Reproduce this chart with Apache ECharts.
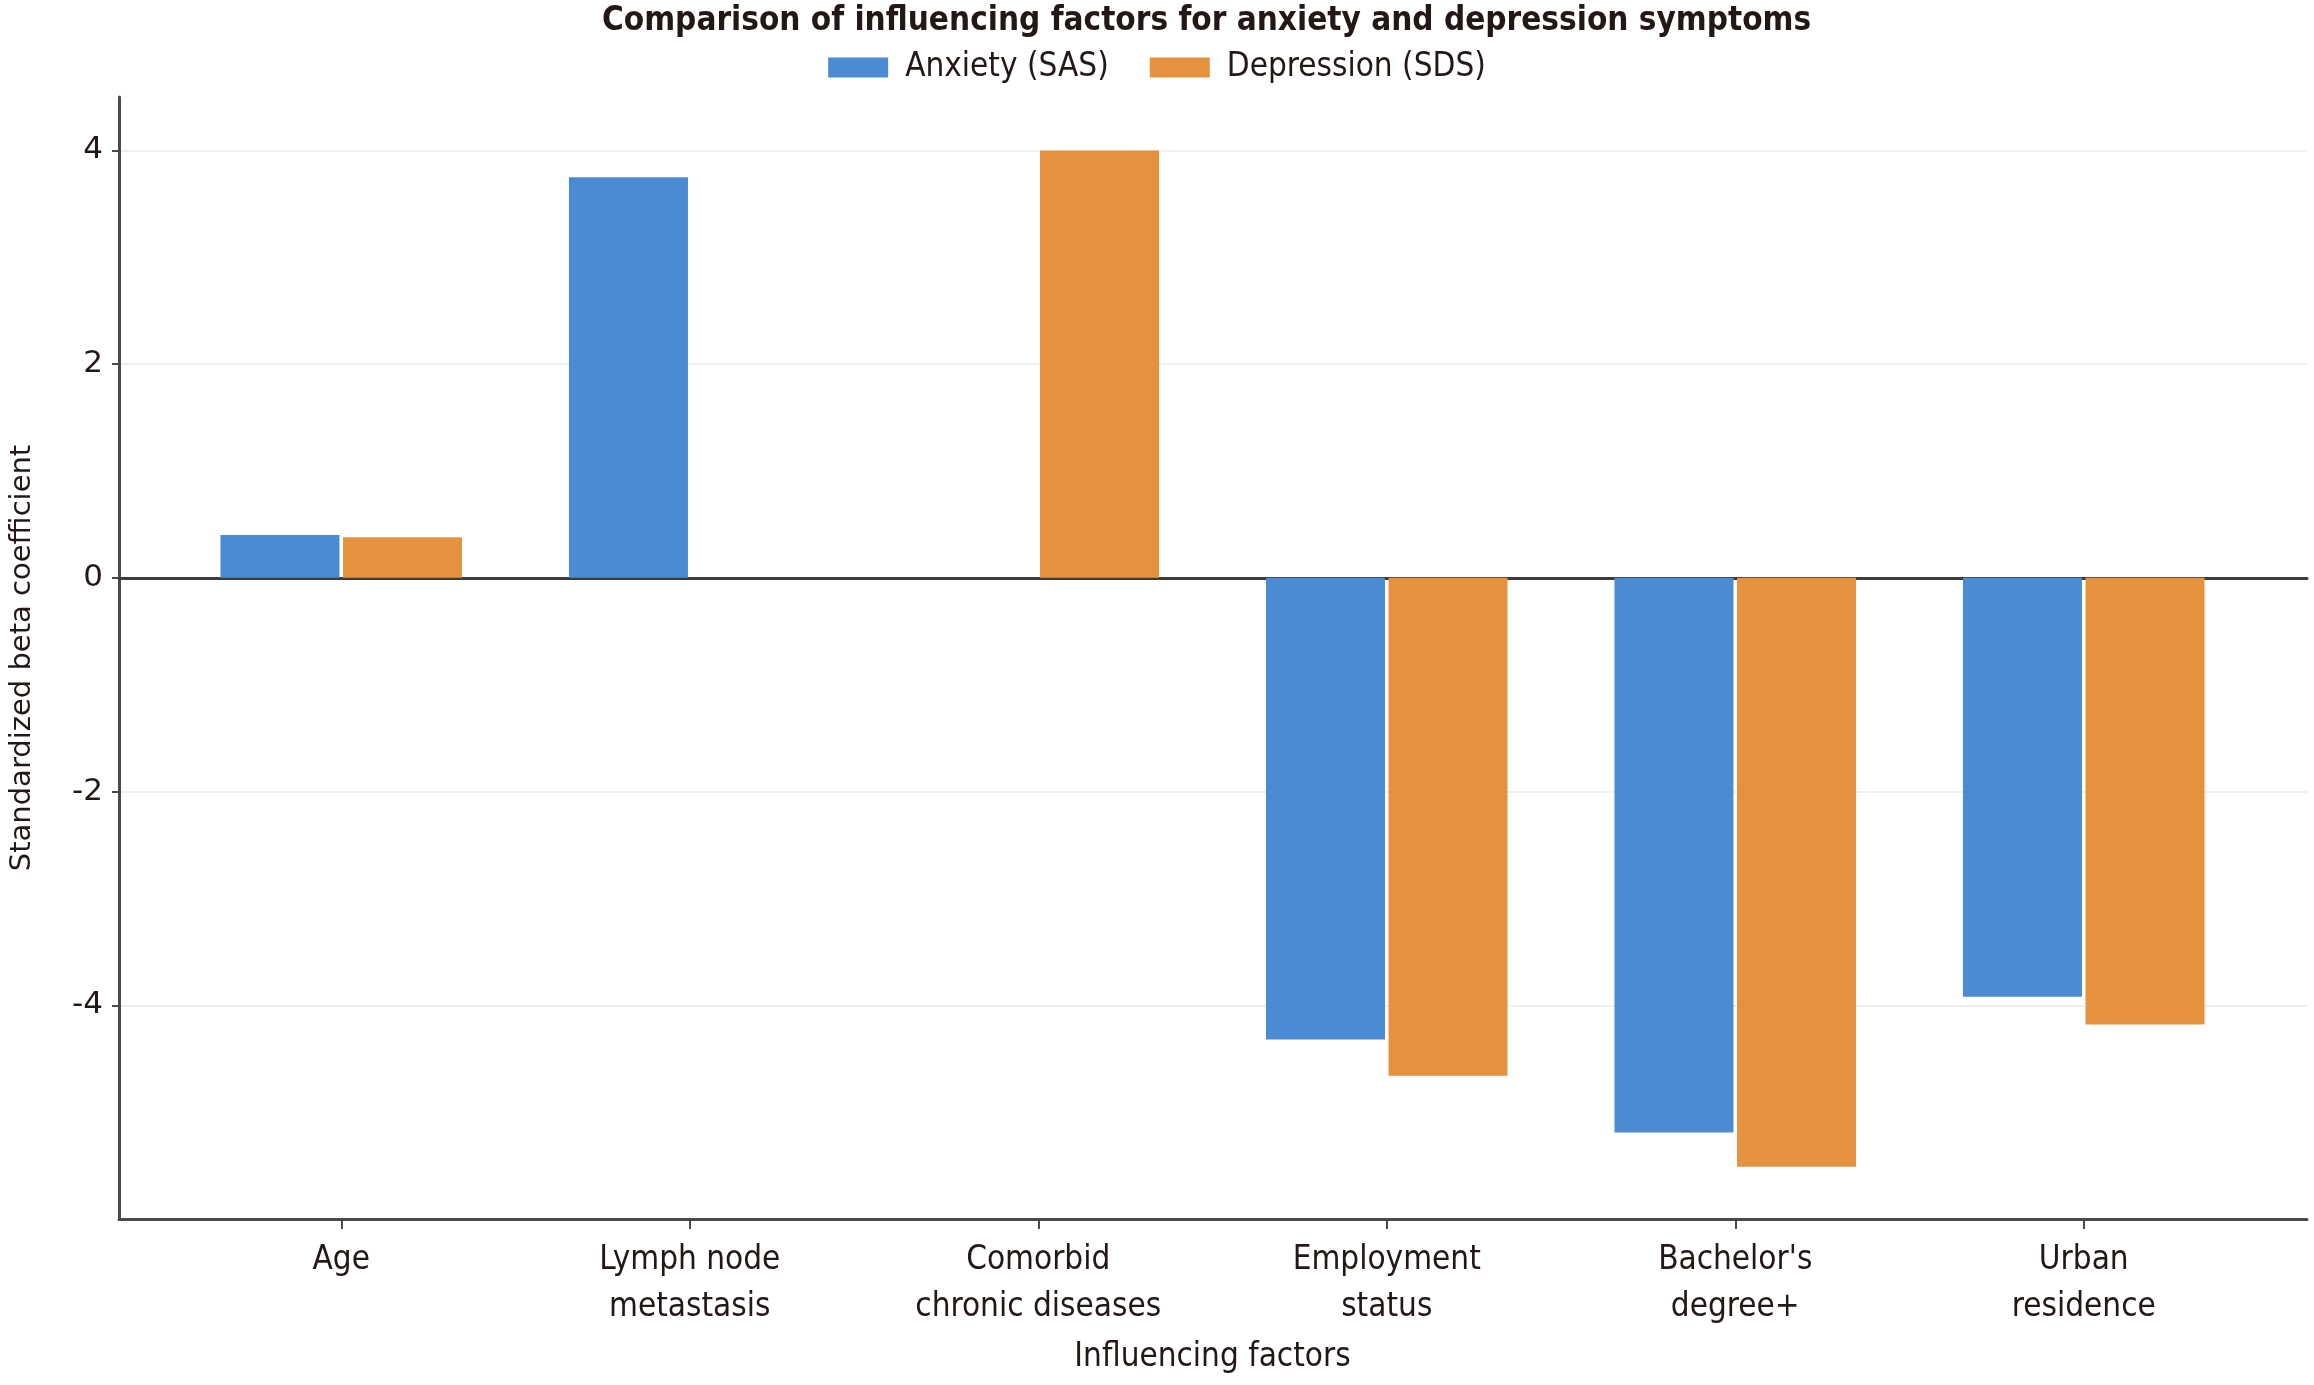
<!DOCTYPE html>
<html>
<head>
<meta charset="utf-8">
<script src="https://cdn.jsdelivr.net/npm/echarts@6/dist/echarts.min.js"></script>
<style>
  html, body { margin: 0; padding: 0; background: #fff; }
  #chart { width: 2314px; height: 1385px; }
</style>
</head>
<body>
<div id="chart"></div>
<script>
// factors on the x axis (label lines split with \n)
var categories = [
    'Age',
    'Lymph node\nmetastasis',
    'Comorbid\nchronic diseases',
    'Employment\nstatus',
    "Bachelor's\ndegree+",
    'Urban\nresidence'
];

// standardized beta coefficients (null = not drawn)
var anxietySAS = [0.40, 3.75, null, -4.32, -5.19, -3.92];
var depressionSDS = [0.38, null, 4.00, -4.66, -5.51, -4.18];

// y axis range and the tick values that carry labels
var yMin = -6;
var yMax = 4.5;
var yTicks = [-4, -2, 0, 2, 4];

var textColor = '#231815';
var axisColor = '#4a4a4a';
var condensed = '"DejaVu Sans Condensed", "DejaVu Sans", sans-serif';

var option = {
    backgroundColor: '#fff',
    animation: false,
    title: {
        // the title sits centred over the plot, not the page
        text: 'Comparison of influencing factors for anxiety and depression symptoms',
        left: 597,
        top: 0,
        textStyle: {
            fontFamily: condensed,
            fontWeight: 'bold',
            fontSize: 33,
            color: textColor
        }
    },
    legend: {
        top: 46,
        left: 'center',
        icon: 'rect',
        itemWidth: 60,
        itemHeight: 20,
        itemGap: 41,
        textStyle: {
            fontFamily: condensed,
            fontSize: 33,
            color: textColor,
            padding: [0, 0, 0, 12]
        },
        data: ['Anxiety (SAS)', 'Depression (SDS)']
    },
    // grid 0 holds the frame (axis lines, y labels); grid 1 holds the bars
    grid: [
        { left: 118, right: 7, top: 97, bottom: 166 },
        { left: 167, right: 56, top: 97, bottom: 166 }
    ],
    xAxis: [
        {
            gridIndex: 0,
            type: 'category',
            data: categories,
            position: 'bottom',
            axisLine: { onZero: false, lineStyle: { color: axisColor, width: 3 } },
            axisTick: { show: false },
            axisLabel: { show: false }
        },
        {
            // zero line
            gridIndex: 0,
            type: 'category',
            data: categories,
            position: 'top',
            axisLine: { onZero: true, lineStyle: { color: '#3c3c3c', width: 3 } },
            axisTick: { show: false },
            axisLabel: { show: false }
        },
        {
            gridIndex: 1,
            type: 'category',
            data: categories,
            position: 'bottom',
            name: 'Influencing factors',
            nameLocation: 'middle',
            nameGap: 122,
            nameTextStyle: {
                fontFamily: condensed,
                fontSize: 33,
                color: textColor
            },
            axisLine: { show: false, onZero: false },
            axisTick: {
                show: true,
                alignWithLabel: true,
                length: 10,
                lineStyle: { color: axisColor, width: 2 }
            },
            axisLabel: {
                margin: 18,
                fontFamily: condensed,
                fontSize: 33,
                lineHeight: 47,
                color: textColor
            }
        }
    ],
    yAxis: [
        {
            gridIndex: 0,
            type: 'value',
            min: yMin,
            max: yMax,
            interval: 2,
            name: 'Standardized beta coefficient',
            nameLocation: 'middle',
            nameGap: 82,
            nameTextStyle: {
                fontFamily: '"DejaVu Sans", sans-serif',
                fontSize: 29,
                color: textColor
            },
            axisLine: { show: true, lineStyle: { color: axisColor, width: 3 } },
            axisTick: {
                show: true,
                customValues: yTicks,
                length: 7,
                lineStyle: { color: axisColor, width: 2 }
            },
            splitLine: { show: true, lineStyle: { color: '#efefef', width: 2 } },
            axisLabel: {
                customValues: yTicks,
                margin: 16,
                fontFamily: '"DejaVu Sans", sans-serif',
                fontSize: 31,
                color: textColor
            }
        },
        {
            gridIndex: 1,
            type: 'value',
            min: yMin,
            max: yMax,
            interval: 2,
            show: false,
            splitLine: { show: false }
        }
    ],
    series: [
        {
            name: 'Anxiety (SAS)',
            type: 'bar',
            xAxisIndex: 2,
            yAxisIndex: 1,
            data: anxietySAS,
            barWidth: 119,
            barGap: '3%',
            itemStyle: { color: '#4a8bd4' }
        },
        {
            name: 'Depression (SDS)',
            type: 'bar',
            xAxisIndex: 2,
            yAxisIndex: 1,
            data: depressionSDS,
            barWidth: 119,
            barGap: '3%',
            itemStyle: { color: '#e5913e' }
        }
    ]
};

var chart = echarts.init(document.getElementById('chart'));
chart.setOption(option);
</script>
</body>
</html>
